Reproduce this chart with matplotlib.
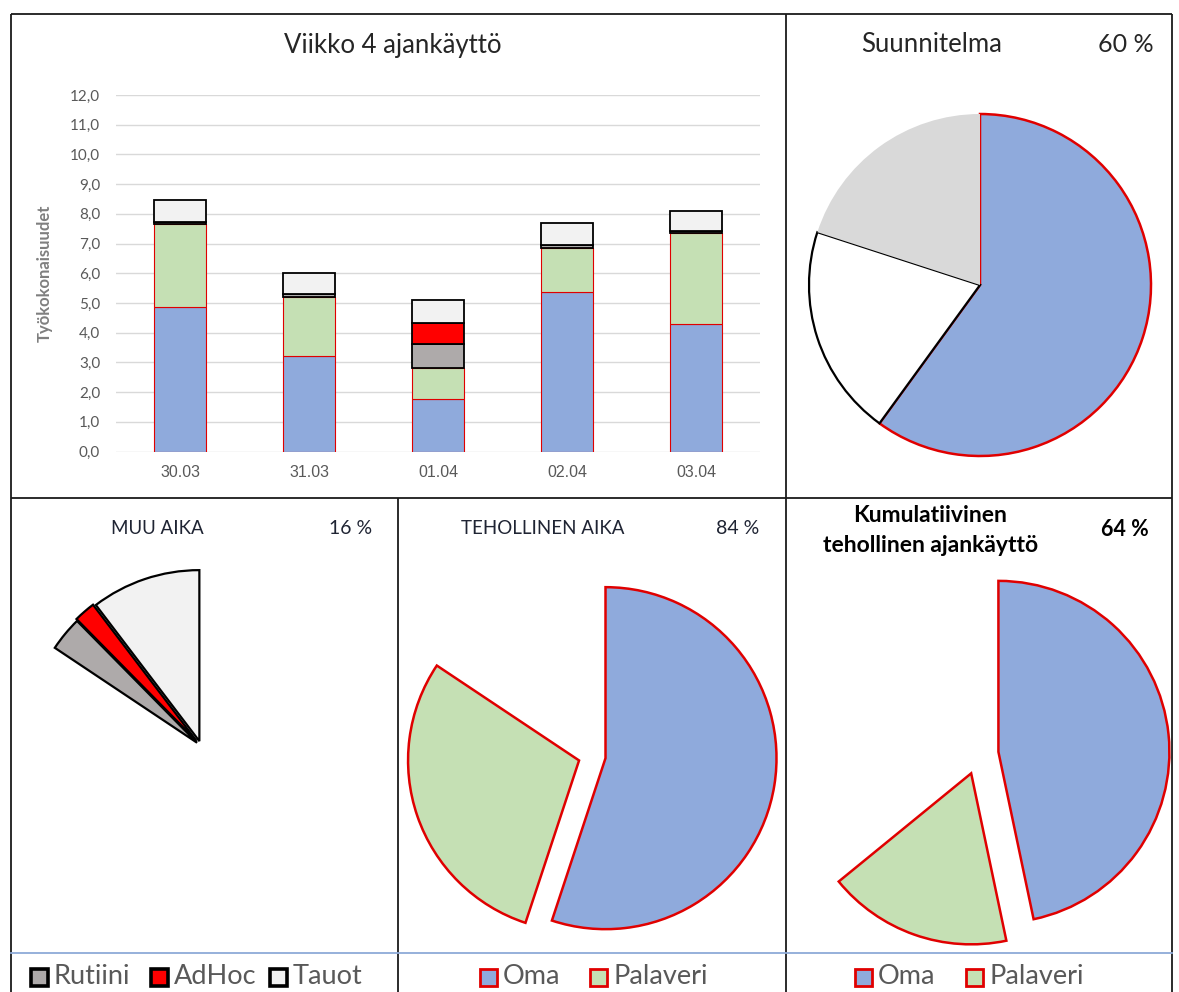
import matplotlib.pyplot as plt
import numpy as np
from matplotlib.patches import Rectangle

plt.rcParams['font.family'] = ['Lato', 'DejaVu Sans']

W, H = 1179, 992

# Viikon tunnit päivittäin
days = ['30.03', '31.03', '01.04', '02.04', '03.04']
categories = ['Oma', 'Palaveri', 'Rutiini', 'AdHoc', 'Tauot']
oma = [4.85, 3.20, 1.77, 5.36, 4.30]
palaveri = [2.80, 2.00, 1.03, 1.48, 3.05]
rutiini = [0.07, 0.10, 0.82, 0.10, 0.06]
adhoc = [0.00, 0.00, 0.72, 0.00, 0.00]
tauot = [0.75, 0.70, 0.76, 0.75, 0.70]
series = [oma, palaveri, rutiini, adhoc, tauot]

# Suunnitelma (%): oma työ, muu, vapaa
plan = [60, 20, 20]
# Kumulatiivinen osuus (%): oma, palaveri, muu aika
cumulative = [46.7, 17.4, 35.9]

fill = {'Oma': '#8faadc', 'Palaveri': '#c5e0b4', 'Rutiini': '#aeaaaa',
        'AdHoc': '#ff0000', 'Tauot': '#f2f2f2'}
edge = {'Oma': '#e00000', 'Palaveri': '#e00000', 'Rutiini': 'black',
        'AdHoc': 'black', 'Tauot': 'black'}

totals = [sum(s) for s in series]
week_total = sum(totals)
effective = 100 * (totals[0] + totals[1]) / week_total
other = 100 - effective

fig = plt.figure(figsize=(W / 100, H / 100), dpi=100)


def px_rect(x0, y0, x1, y1):
    return [x0 / W, 1 - y1 / H, (x1 - x0) / W, (y1 - y0) / H]


# taustalle viivat ja tekstit pikselikoordinaateissa
bg = fig.add_axes([0, 0, 1, 1])
bg.set_xlim(0, W)
bg.set_ylim(H, 0)
bg.axis('off')

L, T, R, B = 11, 14, 1172, 992
for xs, ys in [((L, R), (T, T)), ((L, L), (T, B)), ((R, R), (T, B)),
               ((L, R), (498, 498)), ((786, 786), (T, B)), ((398, 398), (498, B))]:
    bg.plot(xs, ys, color='#1a1a1a', lw=1.3, solid_capstyle='butt')
bg.plot((L, R), (953, 953), color='#8eaad8', lw=1.3)

# pinottu pylväskaavio
ax = fig.add_axes(px_rect(115.5, 95, 760.5, 451.5))
x = np.arange(len(days))
bottom = np.zeros(len(days))
for name, vals in zip(categories, series):
    lw = 0.8 if edge[name] != 'black' else 1.3
    ax.bar(x, vals, 0.4, bottom=bottom, color=fill[name], edgecolor=edge[name],
           linewidth=lw, zorder=3)
    bottom += np.array(vals)
ax.set_xlim(-0.5, len(days) - 0.5)
ax.set_ylim(0, 12)
ticks = np.arange(0, 13)
ax.set_yticks(ticks)
ax.set_yticklabels([f'{t:.1f}'.replace('.', ',') for t in ticks])
ax.set_xticks(x)
ax.set_xticklabels(days, family='Liberation Sans')
ax.tick_params(axis='y', length=0, pad=11, labelsize=11, labelcolor='#595959')
ax.tick_params(axis='x', length=0, pad=10, labelsize=11.5, labelcolor='#595959')
ax.grid(axis='y', color='#d9d9d9', lw=1, zorder=0)
for s in ax.spines.values():
    s.set_visible(False)
ax.set_ylabel('Työkokonaisuudet', fontsize=12, color='#7f7f7f', fontweight='bold')
ax.yaxis.set_label_coords(-0.098, 0.5)

bg.text(393, 45, 'Viikko 4 ajankäyttö', fontsize=18.5, color='#262626', ha='center', va='center')


def pie_axes(cx, cy, half=195, r=171):
    a = fig.add_axes(px_rect(cx - half, cy - half, cx + half, cy + half))
    return a, half / r


def finish(a, lim):
    a.set_xlim(-lim, lim)
    a.set_ylim(-lim, lim)
    a.axis('off')


# Suunnitelma
pa, lim = pie_axes(980, 285)
wedges, _ = pa.pie(plan, colors=['#8faadc', 'white', '#d9d9d9'], startangle=90,
                   counterclock=False)
wedges[0].set(edgecolor='#e00000', linewidth=1.8)
wedges[1].set(edgecolor='black', linewidth=1.6)
wedges[2].set(edgecolor='none', linewidth=0)
finish(pa, lim)
bg.text(932, 45, 'Suunnitelma', fontsize=18.5, color='#262626', ha='center', va='center')
bg.text(1126, 45, f'{plan[0]} %', fontsize=18, color='#262626', ha='center', va='center')

# Muu aika
pa, lim = pie_axes(201, 746)
wedges, _ = pa.pie(totals, colors=[fill[c] for c in categories], startangle=90,
                   counterclock=False, explode=[0, 0, 0.03, 0.04, 0.03])
for w, c in zip(wedges, categories):
    if c in ('Oma', 'Palaveri'):
        w.set_visible(False)
    else:
        w.set(edgecolor='black', linewidth=1.6)
finish(pa, lim)
bg.text(157, 528, 'MUU AIKA', fontsize=13.5, color='#1f2433', ha='center', va='center')
bg.text(351, 528, f'{other:.0f} %', fontsize=14, color='#1f2433', ha='center', va='center')

# Tehollinen aika
pa, lim = pie_axes(592, 756)
wedges, _ = pa.pie(totals, colors=[fill[c] for c in categories], startangle=90,
                   counterclock=False, explode=[0.08, 0.08, 0, 0, 0])
for w, c in zip(wedges, categories):
    if c in ('Oma', 'Palaveri'):
        w.set(edgecolor='#e00000', linewidth=1.8)
    else:
        w.set_visible(False)
finish(pa, lim)
bg.text(543, 528, 'TEHOLLINEN AIKA', fontsize=13.5, color='#1f2433', ha='center', va='center')
bg.text(738, 528, f'{effective:.0f} %', fontsize=14, color='#1f2433', ha='center', va='center')

# Kumulatiivinen
pa, lim = pie_axes(978, 754)
wedges, _ = pa.pie(cumulative, colors=[fill['Oma'], fill['Palaveri'], 'white'],
                   startangle=90, counterclock=False, explode=[0.12, 0.12, 0])
wedges[0].set(edgecolor='#e00000', linewidth=1.8)
wedges[1].set(edgecolor='#e00000', linewidth=1.8)
wedges[2].set_visible(False)
finish(pa, lim)
bg.text(930, 516, 'Kumulatiivinen', fontsize=16.5, fontweight='bold', color='black',
        ha='center', va='center')
bg.text(931, 546, 'tehollinen ajankäyttö', fontsize=16.5, fontweight='bold', color='black',
        ha='center', va='center')
bg.text(1125, 530, f'{cumulative[0] + cumulative[1]:.0f} %', fontsize=15.5, fontweight='bold',
        color='black', ha='center', va='center')


# selitteet alareunassa
def legend_row(items, y=977):
    for x0, name in items:
        lw = 2.6 if edge[name] == 'black' else 2.0
        bg.add_patch(Rectangle((x0, y - 8.5), 17, 17, facecolor=fill[name],
                               edgecolor=edge[name], lw=lw))
        bg.text(x0 + 23, 984, name, fontsize=19.5, color='#595959', ha='left', va='baseline')


legend_row([(31, 'Rutiini'), (151, 'AdHoc'), (270, 'Tauot')])
legend_row([(480, 'Oma'), (590, 'Palaveri')])
legend_row([(855, 'Oma'), (966, 'Palaveri')])

fig.savefig('out.png', dpi=100)
